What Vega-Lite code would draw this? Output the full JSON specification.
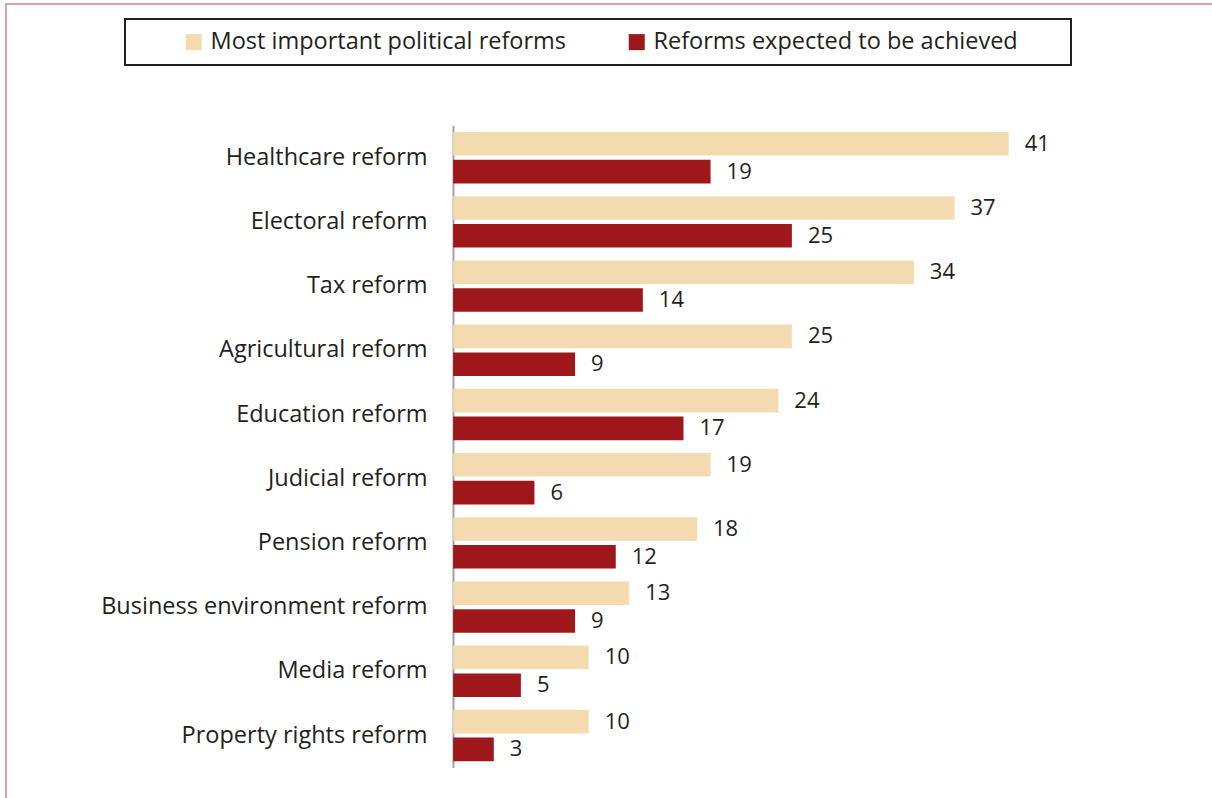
{
  "$schema": "https://vega.github.io/schema/vega-lite/v6.json",
  "autosize": {"type": "none"},
  "width": 1210,
  "height": 798,
  "padding": {"left": 6, "top": 4, "right": -4, "bottom": -4},
  "background": "white",
  "data": {
    "values": [
      {"reform": "Healthcare reform", "series": "Most important political reforms", "value": 41},
      {"reform": "Healthcare reform", "series": "Reforms expected to be achieved", "value": 19},
      {"reform": "Electoral reform", "series": "Most important political reforms", "value": 37},
      {"reform": "Electoral reform", "series": "Reforms expected to be achieved", "value": 25},
      {"reform": "Tax reform", "series": "Most important political reforms", "value": 34},
      {"reform": "Tax reform", "series": "Reforms expected to be achieved", "value": 14},
      {"reform": "Agricultural reform", "series": "Most important political reforms", "value": 25},
      {"reform": "Agricultural reform", "series": "Reforms expected to be achieved", "value": 9},
      {"reform": "Education reform", "series": "Most important political reforms", "value": 24},
      {"reform": "Education reform", "series": "Reforms expected to be achieved", "value": 17},
      {"reform": "Judicial reform", "series": "Most important political reforms", "value": 19},
      {"reform": "Judicial reform", "series": "Reforms expected to be achieved", "value": 6},
      {"reform": "Pension reform", "series": "Most important political reforms", "value": 18},
      {"reform": "Pension reform", "series": "Reforms expected to be achieved", "value": 12},
      {"reform": "Business environment reform", "series": "Most important political reforms", "value": 13},
      {"reform": "Business environment reform", "series": "Reforms expected to be achieved", "value": 9},
      {"reform": "Media reform", "series": "Most important political reforms", "value": 10},
      {"reform": "Media reform", "series": "Reforms expected to be achieved", "value": 5},
      {"reform": "Property rights reform", "series": "Most important political reforms", "value": 10},
      {"reform": "Property rights reform", "series": "Reforms expected to be achieved", "value": 3}
    ]
  },
  "encoding": {
    "y": {
      "field": "reform",
      "type": "nominal",
      "sort": null,
      "scale": {"range": [121.6, 763.6], "paddingInner": 0.2, "paddingOuter": 0.1},
      "axis": {
        "title": null,
        "offset": -447,
        "ticks": false,
        "labelPadding": 26,
        "labelFont": "Open Sans",
        "labelFontSize": 23.5,
        "labelColor": "#231F20",
        "domainColor": "#A3A3A3",
        "domainWidth": 2,
        "labelLimit": 400
      }
    },
    "yOffset": {
      "field": "series",
      "type": "nominal",
      "sort": ["Most important political reforms", "Reforms expected to be achieved"],
      "scale": {"paddingInner": 0.15, "paddingOuter": 0}
    },
    "x": {
      "field": "value",
      "type": "quantitative",
      "scale": {"domain": [-33, 56.3], "nice": false},
      "axis": null
    }
  },
  "layer": [
    {
      "mark": {"type": "bar"},
      "encoding": {
        "color": {
          "field": "series",
          "type": "nominal",
          "sort": ["Most important political reforms", "Reforms expected to be achieved"],
          "scale": {"range": ["#F3DBAF", "#9E181B"]},
          "legend": {
            "orient": "none",
            "legendX": 119,
            "legendY": 15,
            "direction": "horizontal",
            "title": " ",
            "titleOrient": "right",
            "titleFontSize": 2,
            "titlePadding": 42,
            "symbolType": "square",
            "symbolSize": 256,
            "symbolStrokeWidth": 0,
            "symbolOpacity": 1,
            "labelFont": "Open Sans",
            "labelFontSize": 23.5,
            "labelColor": "#231F20",
            "labelOffset": 5,
            "labelLimit": 500,
            "strokeColor": "#231F20",
            "fillColor": "white",
            "padding": 11,
            "columnPadding": 12,
            "symbolOffset": 46,
            "encode": {"legend": {"update": {"strokeWidth": {"value": 2}}}}
          }
        }
      }
    },
    {
      "mark": {"type": "text", "align": "left", "baseline": "middle", "dx": 16, "font": "Open Sans", "fontSize": 22, "color": "#231F20"},
      "encoding": {"text": {"field": "value", "type": "quantitative"}}
    }
  ],
  "config": {
    "view": {"stroke": "#CC8585", "strokeWidth": 1.5}
  }
}
